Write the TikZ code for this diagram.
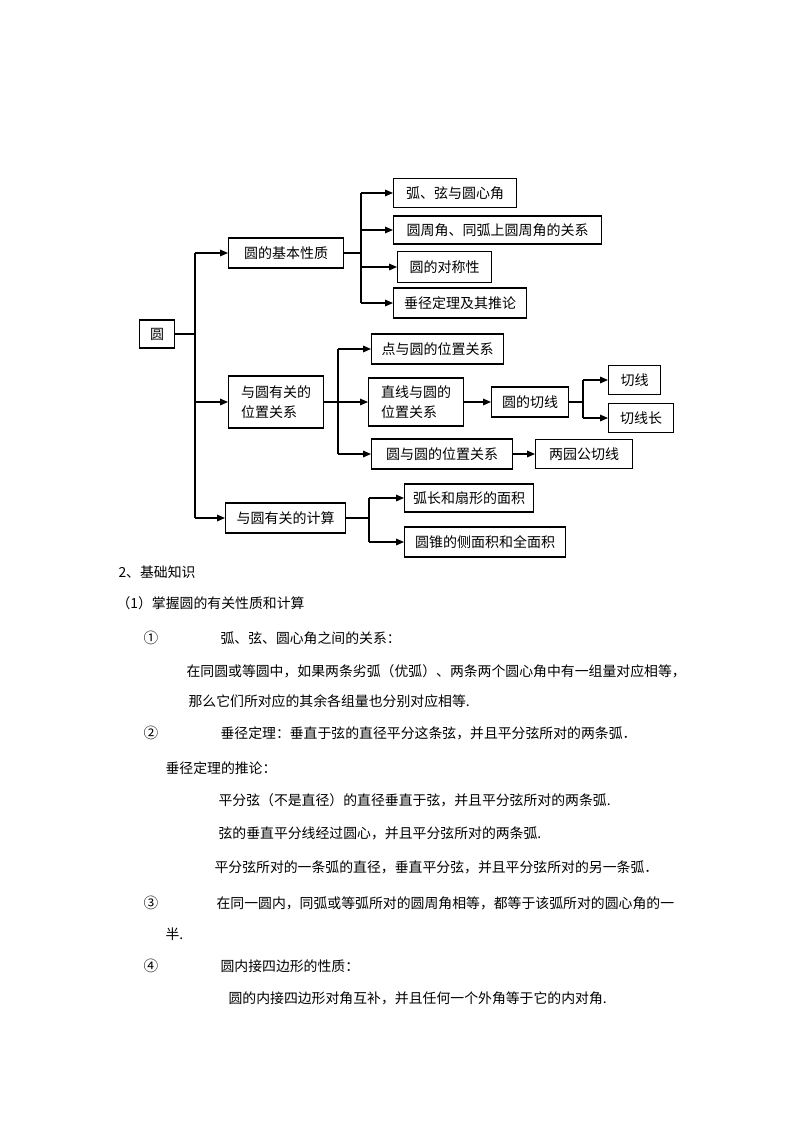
\documentclass[tikz,border=0pt]{standalone}
\usepackage{fontspec}
\newfontfamily\cjk{Noto Sans CJK SC}
\usetikzlibrary{arrows.meta}

\tikzset{
  every node/.style={font=\cjk\fontsize{10.5pt}{15pt}\selectfont},
  box/.style={draw, line width=0.8pt, anchor=west, inner sep=0pt, align=left},
  arr/.style={-{Triangle[length=6pt,width=5pt]}},
  txt/.style={anchor=west, inner sep=0pt, font=\cjk\fontsize{10.4pt}{12pt}\selectfont},
  num/.style={inner sep=0pt, font=\cjk\fontsize{11pt}{12pt}\selectfont},
}

\begin{document}
\begin{tikzpicture}[x=0.75pt, y=-0.75pt, line width=0.8pt]
    \useasboundingbox (0,0) rectangle (794,1123);

    % chart
    \node (yuan) at (139,334) [box, minimum width=26.25pt, minimum height=21pt] {圆};

    \node (jb)  at (228,253) [box, minimum width=86.25pt, minimum height=22.5pt] {圆的基本性质};
    \node (hx)  at (393,193) [box, minimum width=92.25pt, minimum height=21.75pt] {弧、弦与圆心角};
    \node (yzj) at (393,230) [box, minimum width=156pt, minimum height=21pt] {圆周角、同弧上圆周角的关系};
    \node (dcx) at (397,267) [box, minimum width=70.5pt, minimum height=23pt] {圆的对称性};
    \node (cj)  at (393,303) [box, minimum width=99.75pt, minimum height=22.5pt] {垂径定理及其推论};

    \node (wz)  at (228,402) [box, minimum width=71.25pt, minimum height=39pt] {与圆有关的\\位置关系};
    \node (dy)  at (371,349) [box, minimum width=99pt, minimum height=22.5pt] {点与圆的位置关系};
    \node (zx)  at (368,402) [box, minimum width=71.25pt, minimum height=36pt] {直线与圆的\\位置关系};
    \node (qx)  at (491,402) [box, minimum width=57.75pt, minimum height=22.5pt] {圆的切线};
    \node (qx1) at (608,380) [box, minimum width=39pt, minimum height=21.75pt] {切线};
    \node (qxc) at (608,418) [box, minimum width=48.75pt, minimum height=21.75pt] {切线长};
    \node (yy)  at (371,454) [box, minimum width=105.75pt, minimum height=22.5pt] {圆与圆的位置关系};
    \node (gqx) at (535,454) [box, minimum width=72.75pt, minimum height=21.75pt] {两园公切线};

    \node (js)  at (225,518) [box, minimum width=90pt, minimum height=22.5pt] {与圆有关的计算};
    \node (hc)  at (404,498) [box, minimum width=96.75pt, minimum height=21pt] {弧长和扇形的面积};
    \node (yz)  at (404,542) [box, minimum width=120.75pt, minimum height=22.5pt] {圆锥的侧面积和全面积};

    \coordinate (t0) at (195,334);
    \coordinate (s1) at (361,253);
    \coordinate (s2) at (338,402);
    \coordinate (s3) at (583,402);
    \coordinate (s4) at (369,518);

    \draw (yuan) -- (t0);
    \draw (t0 |- jb) -- (t0 |- js);
    \foreach \n in {jb,wz,js} \draw[arr] (t0 |- \n) -- (\n);

    \draw (jb) -- (s1);
    \draw (s1 |- hx) -- (s1 |- cj);
    \foreach \n in {hx,yzj,dcx,cj} \draw[arr] (s1 |- \n) -- (\n);

    \draw (wz) -- (s2);
    \draw (s2 |- dy) -- (s2 |- yy);
    \foreach \n in {dy,zx,yy} \draw[arr] (s2 |- \n) -- (\n);
    \draw[arr] (zx) -- (qx);

    \draw (qx) -- (s3);
    \draw (s3 |- qx1) -- (s3 |- qxc);
    \foreach \n in {qx1,qxc} \draw[arr] (s3 |- \n) -- (\n);
    \draw[arr] (yy) -- (gqx);

    \draw (js) -- (s4);
    \draw (s4 |- hc) -- (s4 |- yz);
    \foreach \n in {hc,yz} \draw[arr] (s4 |- \n) -- (\n);

    % text
    \node (l1)  at (118,572) [txt] {2、基础知识};
    \node (l2)  at (116,603) [txt] {（1）掌握圆的有关性质和计算};
    \node (n1)  at (151,638) [num] {①};
    \node (l3)  at (220,638) [txt] {弧、弦、圆心角之间的关系：};
    \node (l4)  at (186,671) [txt] {在同圆或等圆中，如果两条劣弧（优弧）、两条两个圆心角中有一组量对应相等，};
    \node (l5)  at (188,701) [txt] {那么它们所对应的其余各组量也分别对应相等.};
    \node (n2)  at (151,733) [num] {②};
    \node (l6)  at (220,733) [txt] {垂径定理：垂直于弦的直径平分这条弦，并且平分弦所对的两条弧．};
    \node (l7)  at (165,768) [txt] {垂径定理的推论：};
    \node (l8)  at (218,800) [txt] {平分弦（不是直径）的直径垂直于弦，并且平分弦所对的两条弧.};
    \node (l9)  at (218,833) [txt] {弦的垂直平分线经过圆心，并且平分弦所对的两条弧.};
    \node (l10) at (214,867) [txt] {平分弦所对的一条弧的直径，垂直平分弦，并且平分弦所对的另一条弧．};
    \node (n3)  at (151,903) [num] {③};
    \node (l11) at (216,903) [txt] {在同一圆内，同弧或等弧所对的圆周角相等，都等于该弧所对的圆心角的一};
    \node (l12) at (165,934) [txt] {半.};
    \node (n4)  at (151,966) [num] {④};
    \node (l13) at (220,966) [txt] {圆内接四边形的性质：};
    \node (l14) at (228,998) [txt] {圆的内接四边形对角互补，并且任何一个外角等于它的内对角.};
\end{tikzpicture}
\end{document}
